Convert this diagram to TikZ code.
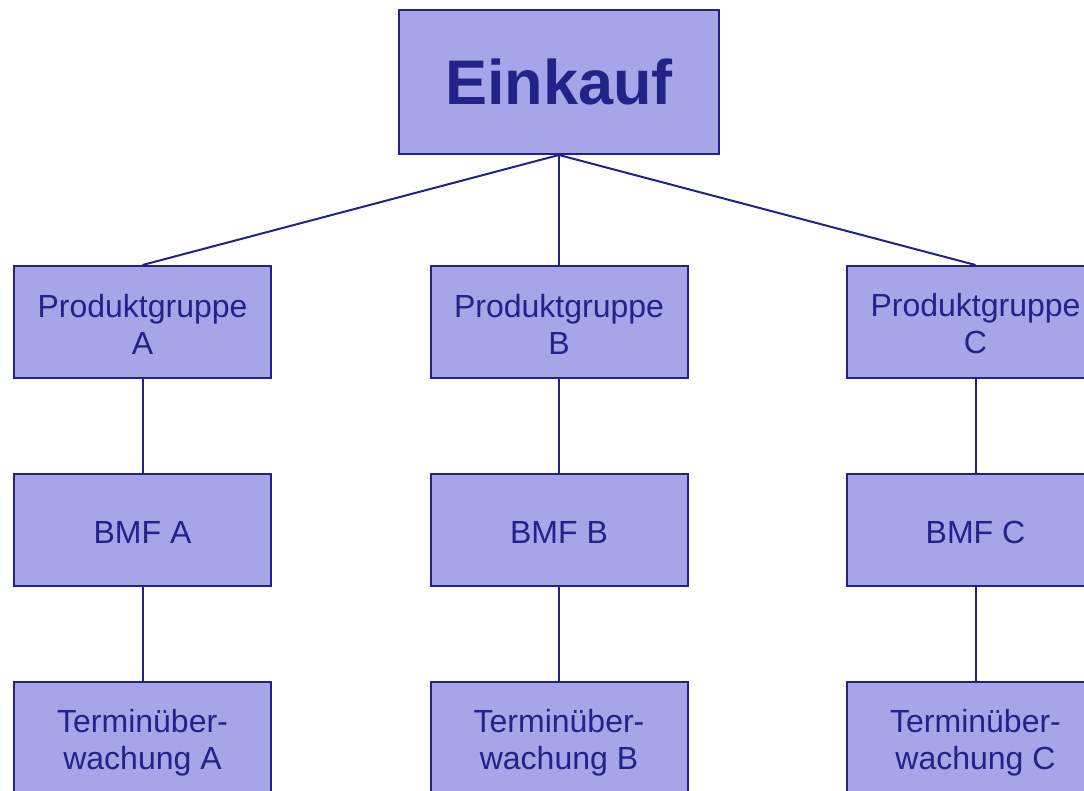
\documentclass[tikz,border=0pt]{standalone}
\usepackage{fontspec}
\setmainfont{Liberation Sans}
\definecolor{boxfill}{RGB}{165,165,232}
\definecolor{navy}{RGB}{34,34,136}
\newcommand{\dn}[1]{\raisebox{-2pt}[\height][\depth]{#1}}
\begin{document}
\begin{tikzpicture}[x=1pt,y=-1pt,
  orgbox/.style={draw=navy,fill=boxfill,line width=2pt,minimum width=257pt,minimum height=112pt,inner sep=0pt,text=navy,align=center,font=\fontsize{32}{37}\selectfont},
  lowbox/.style={orgbox,minimum height=122pt},
  topbox/.style={orgbox,minimum width=320pt,minimum height=144pt,font=\fontsize{63}{70}\selectfont\bfseries},
  link/.style={draw=navy,line width=2pt}]
\useasboundingbox (0,0) rectangle (1084,791);
\node[topbox] (ein) at (559,82) {Einkauf};
\node[orgbox] (pa) at (142.5,322) {\dn{Produktgruppe}\\\dn{A}};
\node[orgbox] (pb) at (559,322) {\dn{Produktgruppe}\\\dn{B}};
\node[orgbox] (pc) at (975.5,322) {\dn{Produktgruppe}\\\dn{C}};
\node[orgbox] (ba) at (142.5,530) {\dn{BMF A}};
\node[orgbox] (bb) at (559,530) {\dn{BMF B}};
\node[orgbox] (bc) at (975.5,530) {\dn{BMF C}};
\node[lowbox] (ta) at (142.5,743) {Terminüber-\\wachung A};
\node[lowbox] (tb) at (559,743) {Terminüber-\\wachung B};
\node[lowbox] (tc) at (975.5,743) {Terminüber-\\wachung C};
\draw[link] (ein.south) -- (pa.north);
\draw[link] (ein.south) -- (pb.north);
\draw[link] (ein.south) -- (pc.north);
\draw[link] (pa) -- (ba);
\draw[link] (pb) -- (bb);
\draw[link] (pc) -- (bc);
\draw[link] (ba) -- (ta);
\draw[link] (bb) -- (tb);
\draw[link] (bc) -- (tc);
\end{tikzpicture}
\end{document}
